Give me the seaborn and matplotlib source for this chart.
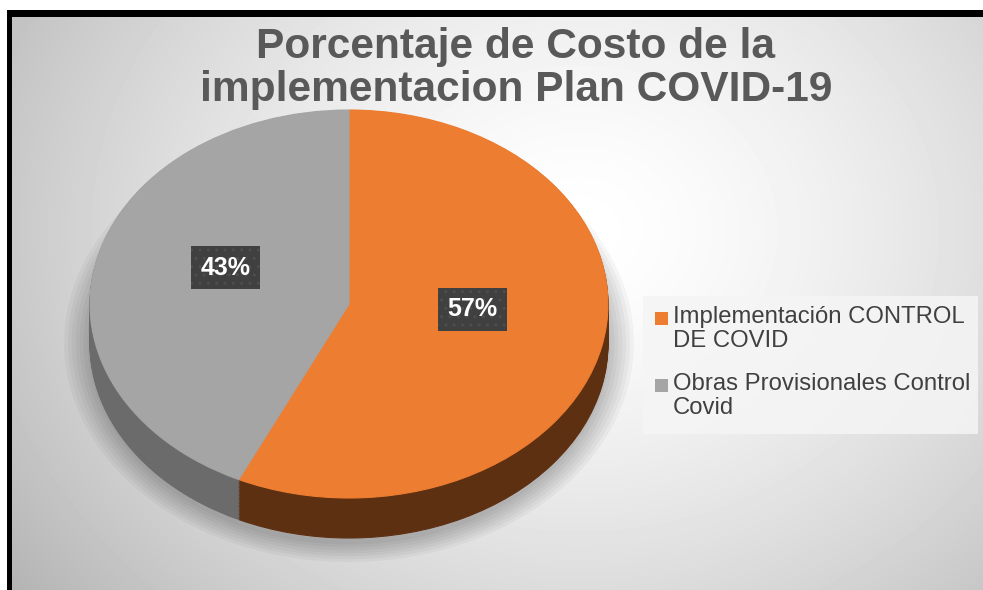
import numpy as np
import matplotlib.pyplot as plt
import seaborn as sns
from matplotlib.patches import Rectangle, Ellipse

# Datos del gráfico
categorias = ["Implementación CONTROL DE COVID", "Obras Provisionales Control Covid"]
etiquetas_leyenda = ["Implementación CONTROL\nDE COVID", "Obras Provisionales Control\nCovid"]
porcentajes = [57, 43]
colores = ["#ED7D31", "#A5A5A5"]
colores_lado = ["#5E3012", "#6B6B6B"]
titulo = "Porcentaje de Costo de la\nimplementacion Plan COVID-19"

sns.set_theme(style="white")
plt.rcParams["font.family"] = ["Liberation Sans", "DejaVu Sans"]

W, H = 983, 590
fig = plt.figure(figsize=(W / 100, H / 100), dpi=100)

# Fondo con degradado radial y marco negro
bg = fig.add_axes([0, 0, 1, 1])
bg.set_xlim(0, W)
bg.set_ylim(H, 0)
bg.axis("off")
yy, xx = np.mgrid[17:H, 12:W]
d = np.hypot((xx - 580) / 620, (yy - 230) / 520)
grad = 1.0 - 0.24 * np.clip(d, 0, 1.3) ** 1.5
bg.imshow(grad, cmap="gray", vmin=0, vmax=1, extent=[12, W, H, 17], aspect="auto")
bg.add_patch(Rectangle((0, 0), W, 10, color="white", lw=0))
bg.add_patch(Rectangle((0, 0), 7, H, color="white", lw=0))
bg.add_patch(Rectangle((7, 10), W - 7, 7, color="black", lw=0))
bg.add_patch(Rectangle((7, 10), 5, H - 10, color="black", lw=0))

# Leyenda manual (cuadro alineado con la primera línea)
bg.add_patch(Rectangle((643, 296), 335, 138, color="#F5F5F5", alpha=0.85, lw=0))
for i, (lab, col) in enumerate(zip(etiquetas_leyenda, colores)):
    y0 = 312 + i * 67
    bg.add_patch(Rectangle((655, y0), 12.5, 12.5, color=col, lw=0))
    bg.text(673, y0 - 5.5, lab, fontsize=17.2, color="#404040", va="top",
            ha="left", linespacing=1.08)

# Título
fig.text(516 / W, 1 - 27 / H, titulo, ha="center", va="top", fontsize=30.6,
         fontweight="bold", color="#595959", linespacing=1.1)

# Pastel "3D": capas oscuras desplazadas para el lateral y la cara superior
ax = fig.add_axes([64.1 / W, (H - 565.9) / H, 569.8 / W, 465.6 / H])
prof = 40 / 194

for k in range(7):
    ax.add_patch(Ellipse((0, -0.2), 2.2 - k * 0.03, 2.26 - k * 0.03,
                         color="black", alpha=0.035, lw=0))

for dy in np.linspace(prof, 0.004, 30):
    cuñas, _ = ax.pie(porcentajes, colors=colores_lado, startangle=90,
                      counterclock=False, center=(0, -dy),
                      wedgeprops=dict(linewidth=0.8))
    for c in cuñas:
        c.set_edgecolor(c.get_facecolor())

cuñas, textos, pct = ax.pie(
    porcentajes, colors=colores, startangle=90, counterclock=False,
    autopct="%1.0f%%", pctdistance=0.49,
    wedgeprops=dict(linewidth=0.8),
    textprops=dict(color="white", fontsize=18, fontweight="bold"))
for c in cuñas:
    c.set_edgecolor(c.get_facecolor())
for t in pct:
    # la perspectiva de la vista eleva un poco las etiquetas
    px, py = t.get_position()
    t.set_position((px, py + 0.08))
    t.set_bbox(dict(boxstyle="square,pad=0.38", fc="#404040", ec="#4E4E4E",
                    hatch="..", lw=0))

ax.set_aspect("auto")
ax.set_xlim(-1.1, 1.1)
ax.set_ylim(-1.35, 1.05)
ax.axis("off")

fig.savefig("out.png", dpi=100)
